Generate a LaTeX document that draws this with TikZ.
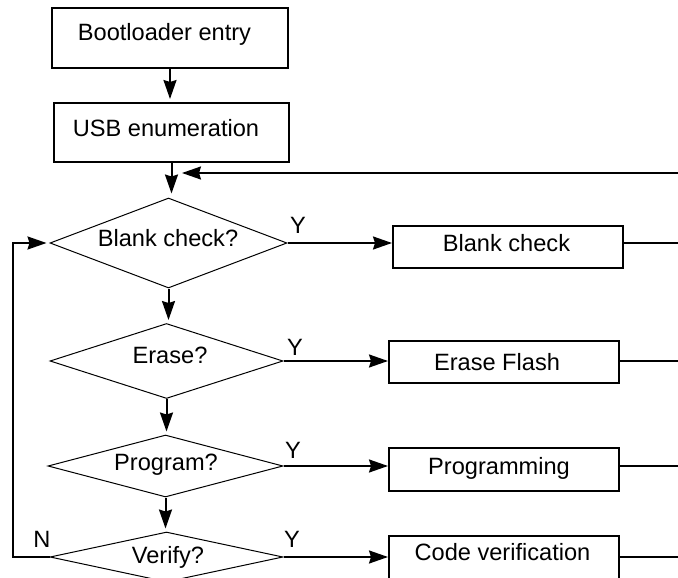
\documentclass[tikz,border=0pt]{standalone}
\usepackage{fontspec}
\setmainfont{Liberation Sans}
\usetikzlibrary{shapes.geometric,arrows.meta}
\begin{document}
\begin{tikzpicture}[x=1pt,y=-1pt,
 box/.style={draw,line width=2pt,rectangle,inner sep=0pt,minimum width=230pt,minimum height=42pt},
 dia/.style={draw,diamond,line width=1pt,inner sep=0pt},
 txt/.style={font=\fontsize{23.6}{28}\selectfont,inner sep=0pt,anchor=base},
 conn/.style={line width=2pt,-{Stealth[length=19pt,width=13pt,inset=2pt]}},
 plain/.style={line width=2pt}]
\useasboundingbox (0,0) rectangle (678,578);
\clip (0,0) rectangle (678,578);
% top boxes
\node[box,minimum width=236pt,minimum height=60pt] (b1) at (170,38.5) {};
\node[txt] (t1) at (164.5,41) {Bootloader entry};
\node[box,minimum width=235pt,minimum height=59pt] (b2) at (171.5,132.5) {};
\node[txt] (t2) at (166,136.5) {USB enumeration};
% decisions
\node[dia,minimum width=237pt,minimum height=90pt] (d1) at (168.5,243) {};
\node[txt] (dt1) at (168,246.5) {Blank check?};
\node[dia,minimum width=233pt,minimum height=75pt] (d2) at (166.5,361) {};
\node[txt] (dt2) at (170,363.5) {Erase?};
\node[dia,minimum width=235pt,minimum height=62pt] (d3) at (165.5,466) {};
\node[txt] (dt3) at (166,470.5) {Program?};
\node[dia,minimum width=233pt,minimum height=50pt] (d4) at (166.5,557) {};
\node[txt] (dt4) at (168,563.5) {Verify?};
% action boxes
\node[box] (x1) at (508,247) {};
\node[txt] (xt1) at (506.5,251.5) {Blank check};
\node[box] (x2) at (504,362) {};
\node[txt] (xt2) at (497,370.5) {Erase Flash};
\node[box,minimum height=43pt] (x3) at (504,469.5) {};
\node[txt] (xt3) at (499,474.5) {Programming};
\node[box,minimum height=52pt] (x4) at (504,562) {};
\node[txt] (xt4) at (502.5,560.5) {Code verification};
% labels
\node[txt] (y1) at (298,233.5) {Y};
\node[txt] (y2) at (295,355.5) {Y};
\node[txt] (y3) at (293,458.5) {Y};
\node[txt] (y4) at (292,547.5) {Y};
\node[txt] (n4) at (42,547.5) {N};
% vertical flow
\draw[conn,shorten >=3pt] (b1.south) -- (b1.south |- b2.north);
\draw[conn,shorten >=4pt] (b2.south) -- (b2.south |- d1.north);
\draw[conn,shorten >=3pt] (d1.south) -- (d1.south |- d2.north);
\draw[conn,shorten >=3pt] (d2.south) -- (d2.south |- d3.north);
\draw[conn,shorten >=3pt] (d3.south) -- (d3.south |- d4.north);
% yes branches
\draw[conn] (d1.east) -- (d1.east -| x1.west);
\draw[conn] (d2.east) -- (d2.east -| x2.west);
\draw[conn] (d3.east) -- (d3.east -| x3.west);
\draw[conn] (d4.east) -- (d4.east -| x4.west);
% right-hand returns
\coordinate (r1) at (678,243);
\coordinate (r2) at (678,361);
\coordinate (r3) at (678,466);
\coordinate (r4) at (678,557);
\draw[plain] (x1.east |- r1) -- (r1);
\draw[plain] (x2.east |- r2) -- (r2);
\draw[plain] (x3.east |- r3) -- (r3);
\draw[plain] (x4.east |- r4) -- (r4);
\coordinate (rt) at (678,173);
\coordinate (rtend) at (182,173);
\draw[conn] (rt) -- (rtend);
% no loop
\draw[conn,shorten >=3pt] (d4.west) -- ++(-37,0) |- (d1.west);
\end{tikzpicture}
\end{document}
